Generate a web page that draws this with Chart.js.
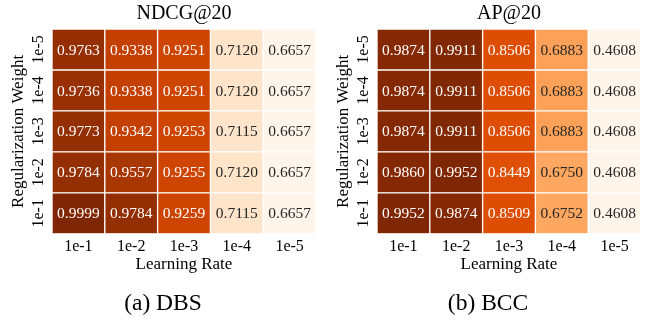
<!DOCTYPE html>
<html>
<head>
<meta charset="utf-8">
<script src="https://cdn.jsdelivr.net/npm/chart.js@4.4.0/dist/chart.umd.min.js"></script>
<style>
  body { margin: 0; background: #fff; }
  #wrap { position: relative; width: 652px; height: 320px; }
  canvas { position: absolute; top: 0; }
  #dbsChart { left: 0; }
  #bccChart { left: 325px; }
</style>
</head>
<body>
<div id="wrap">
  <canvas id="dbsChart" width="326" height="320"></canvas>
  <canvas id="bccChart" width="326" height="320"></canvas>
</div>
<script>
// x categories (learning rate) and y categories (regularization weight, bottom row first)
const learningRates = ['1e-1', '1e-2', '1e-3', '1e-4', '1e-5'];
const regWeights = ['1e-1', '1e-2', '1e-3', '1e-4', '1e-5'];

// NDCG@20 on DBS, one row per regularization weight (bottom to top)
const ndcgRows = [
    [0.9999, 0.9784, 0.9259, 0.7115, 0.6657],
    [0.9784, 0.9557, 0.9255, 0.7120, 0.6657],
    [0.9773, 0.9342, 0.9253, 0.7115, 0.6657],
    [0.9736, 0.9338, 0.9251, 0.7120, 0.6657],
    [0.9763, 0.9338, 0.9251, 0.7120, 0.6657]
];

// AP@20 on BCC
const apRows = [
    [0.9952, 0.9874, 0.8509, 0.6752, 0.4608],
    [0.9860, 0.9952, 0.8449, 0.6750, 0.4608],
    [0.9874, 0.9911, 0.8506, 0.6883, 0.4608],
    [0.9874, 0.9911, 0.8506, 0.6883, 0.4608],
    [0.9874, 0.9911, 0.8506, 0.6883, 0.4608]
];

const orangesStops = ['#fff5eb', '#fee6ce', '#fdd0a2', '#fdae6b', '#fd8d3c', '#f16913', '#d94801', '#a63603', '#7f2704'];

Chart.defaults.font.family = '"Liberation Serif", "Times New Roman", serif';
Chart.defaults.color = '#000';

function hexToRgb(h) {
    return [1, 3, 5].map(i => parseInt(h.substr(i, 2), 16));
}

function oranges(t) {
    t = Math.min(1, Math.max(0, t));
    const pos = t * (orangesStops.length - 1);
    const i = Math.min(Math.floor(pos), orangesStops.length - 2);
    const f = pos - i;
    const a = hexToRgb(orangesStops[i]);
    const b = hexToRgb(orangesStops[i + 1]);
    return a.map((v, k) => Math.round(v + (b[k] - v) * f));
}

function luminance(rgb) {
    const c = rgb.map(v => {
        v /= 255;
        return v <= 0.03928 ? v / 12.92 : Math.pow((v + 0.055) / 1.055, 2.4);
    });
    return 0.2126 * c[0] + 0.7152 * c[1] + 0.0722 * c[2];
}

const cellText = {
    id: 'cellText',
    afterDatasetsDraw(chart) {
        const ctx = chart.ctx;
        ctx.save();
        ctx.font = '15.5px "Liberation Serif"';
        ctx.textAlign = 'center';
        ctx.textBaseline = 'middle';
        chart.data.datasets.forEach((ds, di) => {
            chart.getDatasetMeta(di).data.forEach((bar, i) => {
                ctx.fillStyle = ds.textColors[i];
                ctx.fillText(ds.values[i].toFixed(4), bar.x, (bar.y + bar.base) / 2 + 1);
            });
        });
        ctx.restore();
    }
};

function makeHeatmap(canvasId, title, caption, rows) {
    const flat = rows.flat();
    const vmin = Math.min(...flat);
    const vmax = Math.max(...flat);

    const datasets = rows.map((row, r) => {
        const colors = row.map(v => oranges((v - vmin) / (vmax - vmin)));
        return {
            data: row.map(() => [r, r + 1]),
            values: row,
            backgroundColor: colors.map(c => `rgb(${c.join(',')})`),
            textColors: colors.map(c => luminance(c) > 0.408 ? '#262626' : '#ffffff'),
            borderColor: '#ffffff',
            borderWidth: 1,
            borderSkipped: false,
            grouped: false,
            barPercentage: 1,
            categoryPercentage: 1
        };
    });

    return new Chart(document.getElementById(canvasId), {
        type: 'bar',
        data: { labels: learningRates, datasets: datasets },
        options: {
            responsive: false,
            animation: false,
            events: [],
            plugins: {
                legend: { display: false },
                tooltip: { enabled: false },
                title: {
                    display: true,
                    text: title,
                    fullSize: false,
                    font: { size: 20, weight: 'normal' },
                    padding: { top: 2, bottom: 3 }
                },
                subtitle: {
                    display: true,
                    position: 'bottom',
                    text: caption,
                    font: { size: 23.5 },
                    color: '#000',
                    padding: { top: 14, bottom: 2 }
                }
            },
            scales: {
                x: {
                    type: 'category',
                    grid: { display: false, drawTicks: false },
                    border: { display: false },
                    ticks: { font: { size: 16 }, padding: 3 },
                    title: {
                        display: true,
                        text: 'Learning Rate',
                        font: { size: 17 },
                        padding: { top: 0, bottom: 1 }
                    },
                    afterFit: s => { s.height = 42; }
                },
                y: {
                    type: 'linear',
                    min: 0,
                    max: 5,
                    grid: { display: false, drawTicks: false },
                    border: { display: false },
                    afterBuildTicks: s => {
                        s.ticks = regWeights.map((_, i) => ({ value: i + 0.5 }));
                    },
                    ticks: {
                        callback: v => regWeights[Math.floor(v)],
                        minRotation: 90,
                        maxRotation: 90,
                        crossAlign: 'center',
                        padding: -1,
                        font: { size: 16 }
                    },
                    title: {
                        display: true,
                        text: 'Regularization Weight',
                        font: { size: 17 },
                        padding: { top: 8, bottom: 0 }
                    },
                    afterFit: s => { s.width = 52; }
                },
                spacer: {
                    type: 'linear',
                    position: 'right',
                    grid: { display: false, drawTicks: false },
                    border: { display: false },
                    ticks: { display: false },
                    afterFit: s => { s.width = 10; }
                }
            }
        },
        plugins: [cellText]
    });
}

makeHeatmap('dbsChart', 'NDCG@20', '(a) DBS', ndcgRows);
makeHeatmap('bccChart', 'AP@20', '(b) BCC', apRows);
</script>
</body>
</html>
